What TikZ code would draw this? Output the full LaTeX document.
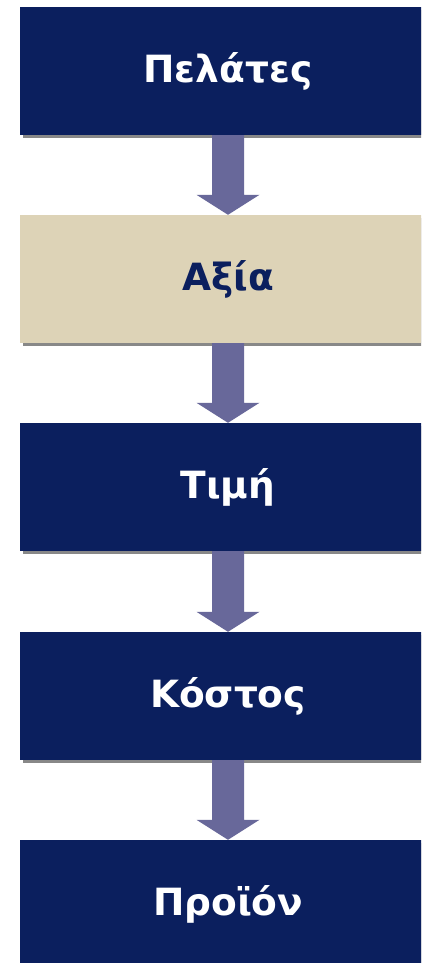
\documentclass[tikz,border=0pt]{standalone}
\usepackage{fontspec}
\setmainfont{DejaVu Sans}
\usetikzlibrary{calc}
\definecolor{navy}{RGB}{11,31,94}
\definecolor{beige}{RGB}{221,211,183}
\definecolor{arrowc}{RGB}{104,104,154}
\definecolor{shadowc}{RGB}{136,136,136}
\tikzset{
  box/.style={rectangle, fill=navy, minimum width=416pt, minimum height=128pt, inner sep=0pt,
    text=white, font=\fontsize{37.5}{44}\selectfont\bfseries,
    preaction={fill=shadowc, transform canvas={xshift=3pt,yshift=-3pt}}},
  lightbox/.style={box, fill=beige, text=navy},
  flowarrow/.style={fill=arrowc, draw=none}
}
\begin{document}
\begin{tikzpicture}[x=1pt,y=-1pt]
\clip (0,0) rectangle (421,963);
\fill[white] (0,0) rectangle (421,963);
\node[box] (b1) at (228,71) {Πελάτες};
\node[lightbox] (b2) at (228,279) {Αξία};
\node[box] (b3) at (228,487) {Τιμή};
\node[box] (b4) at (228,696) {Κόστος};
\node[box] (b5) at (228,904) {Προϊόν};
\foreach \a/\b in {b1/b2,b2/b3,b3/b4,b4/b5}{
  \path[flowarrow] ($(\a.south)+(-16,0)$) -- ($(\b.north)+(-16,-20)$) -- ($(\b.north)+(-31.5,-20)$)
    -- (\b.north) -- ($(\b.north)+(31.5,-20)$) -- ($(\b.north)+(16,-20)$) -- ($(\a.south)+(16,0)$) -- cycle;
}
\end{tikzpicture}
\end{document}
